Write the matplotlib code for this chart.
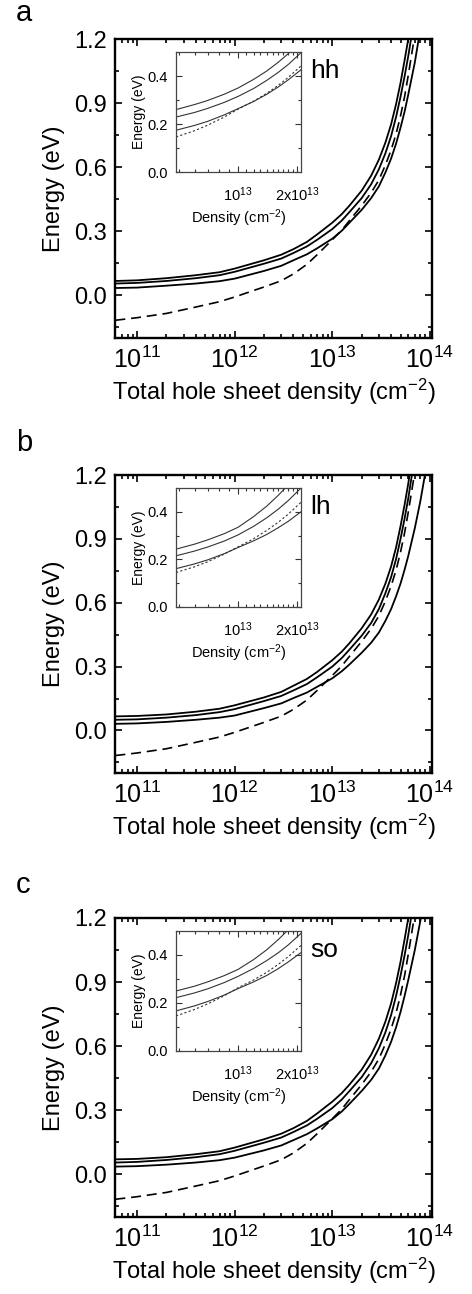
import numpy as np
import matplotlib
matplotlib.use("Agg")
import matplotlib.pyplot as plt
from matplotlib.ticker import FixedLocator, NullFormatter, MultipleLocator, FixedFormatter

plt.rcParams['font.family'] = ['Liberation Sans', 'DejaVu Sans']
plt.rcParams['mathtext.fontset'] = 'custom'
plt.rcParams['mathtext.rm'] = 'Liberation Sans'
plt.rcParams['mathtext.it'] = 'Liberation Sans:italic'
plt.rcParams['mathtext.default'] = 'regular'

# ---------------- data (main panels) ----------------
density = [6e10, 1e11, 2e11, 4e11, 7e11, 1e12, 2e12, 3e12, 4e12, 5.5e12, 7e12, 1e13, 1.25e13, 1.5e13,
           2e13, 2.5e13, 3e13, 3.5e13, 4e13, 4.5e13, 5e13, 5.5e13, 6e13, 7e13, 8e13, 9e13, 1e14]

hh_top    = [0.067, 0.070, 0.080, 0.094, 0.108, 0.125, 0.164, 0.190, 0.216, 0.250, 0.285, 0.340, 0.380, 0.420,
             0.490, 0.560, 0.635, 0.715, 0.800, 0.895, 0.995, 1.100, 1.200, 1.400, 1.600, 1.800, 2.000]
hh_mid    = [0.055, 0.058, 0.067, 0.080, 0.094, 0.110, 0.148, 0.172, 0.198, 0.229, 0.260, 0.310, 0.350, 0.390,
             0.455, 0.520, 0.590, 0.665, 0.745, 0.835, 0.930, 1.025, 1.120, 1.310, 1.500, 1.690, 1.880]
hh_bottom = [0.034, 0.036, 0.045, 0.055, 0.066, 0.078, 0.114, 0.138, 0.164, 0.192, 0.220, 0.265, 0.302, 0.340,
             0.400, 0.455, 0.510, 0.575, 0.640, 0.710, 0.785, 0.860, 0.940, 1.090, 1.250, 1.410, 1.570]
hh_dashed = [-0.117, -0.105, -0.085, -0.055, -0.030, -0.008, 0.039, 0.068, 0.100, 0.145, 0.190, 0.260, 0.305, 0.350,
             0.420, 0.480, 0.540, 0.610, 0.680, 0.755, 0.840, 0.930, 1.030, 1.220, 1.410, 1.600, 1.790]

lh_top    = [0.066, 0.068, 0.075, 0.088, 0.102, 0.118, 0.155, 0.181, 0.210, 0.242, 0.275, 0.330, 0.370, 0.410,
             0.480, 0.545, 0.615, 0.690, 0.770, 0.860, 0.960, 1.060, 1.160, 1.370, 1.580, 1.790, 2.000]
lh_mid    = [0.050, 0.052, 0.060, 0.072, 0.086, 0.100, 0.138, 0.162, 0.188, 0.218, 0.250, 0.300, 0.340, 0.380,
             0.445, 0.505, 0.570, 0.645, 0.720, 0.805, 0.900, 0.995, 1.090, 1.290, 1.490, 1.690, 1.890]
lh_bottom = [0.031, 0.033, 0.040, 0.050, 0.060, 0.070, 0.105, 0.127, 0.152, 0.178, 0.205, 0.245, 0.278, 0.310,
             0.365, 0.412, 0.460, 0.515, 0.570, 0.630, 0.690, 0.755, 0.820, 0.950, 1.080, 1.215, 1.350]
lh_dashed = [-0.118, -0.106, -0.086, -0.056, -0.031, -0.009, 0.038, 0.067, 0.099, 0.143, 0.188, 0.258, 0.303, 0.348,
             0.418, 0.478, 0.538, 0.608, 0.678, 0.753, 0.838, 0.928, 1.025, 1.215, 1.405, 1.595, 1.785]

so_top    = [0.070, 0.072, 0.080, 0.094, 0.108, 0.125, 0.164, 0.190, 0.216, 0.250, 0.285, 0.340, 0.380, 0.420,
             0.490, 0.560, 0.635, 0.715, 0.800, 0.895, 0.995, 1.100, 1.200, 1.400, 1.600, 1.800, 2.000]
so_mid    = [0.055, 0.058, 0.067, 0.080, 0.094, 0.110, 0.148, 0.172, 0.198, 0.229, 0.260, 0.310, 0.350, 0.390,
             0.455, 0.520, 0.590, 0.665, 0.745, 0.835, 0.930, 1.025, 1.120, 1.310, 1.500, 1.690, 1.880]
so_bottom = [0.036, 0.038, 0.045, 0.055, 0.066, 0.078, 0.112, 0.135, 0.160, 0.188, 0.215, 0.258, 0.294, 0.330,
             0.390, 0.442, 0.495, 0.557, 0.620, 0.688, 0.760, 0.835, 0.910, 1.050, 1.190, 1.335, 1.480]
so_dashed = [-0.117, -0.105, -0.085, -0.055, -0.030, -0.008, 0.039, 0.068, 0.100, 0.145, 0.190, 0.260, 0.305, 0.350,
             0.420, 0.480, 0.540, 0.610, 0.680, 0.755, 0.840, 0.930, 1.030, 1.220, 1.410, 1.600, 1.790]

# ---------------- data (insets) ----------------
inset_density = [4.83e12, 6e12, 7e12, 8.5e12, 1e13, 1.2e13, 1.4e13, 1.6e13, 1.8e13, 2.09e13]

hh_in_top    = [0.260, 0.281, 0.298, 0.324, 0.350, 0.386, 0.421, 0.457, 0.493, 0.545]
hh_in_mid    = [0.229, 0.248, 0.265, 0.290, 0.315, 0.348, 0.382, 0.415, 0.448, 0.497]
hh_in_bottom = [0.174, 0.194, 0.211, 0.238, 0.264, 0.294, 0.324, 0.354, 0.384, 0.426]
hh_in_dotted = [0.146, 0.172, 0.195, 0.229, 0.262, 0.295, 0.328, 0.361, 0.394, 0.442]

lh_in_top    = [0.243, 0.264, 0.282, 0.308, 0.335, 0.380, 0.424, 0.469, 0.513, 0.570]
lh_in_mid    = [0.215, 0.235, 0.252, 0.277, 0.303, 0.339, 0.375, 0.411, 0.447, 0.500]
lh_in_bottom = [0.161, 0.181, 0.198, 0.224, 0.250, 0.278, 0.305, 0.333, 0.360, 0.400]
lh_in_dotted = [0.145, 0.169, 0.190, 0.222, 0.253, 0.287, 0.322, 0.356, 0.390, 0.440]

so_in_top    = [0.250, 0.270, 0.288, 0.314, 0.340, 0.381, 0.422, 0.464, 0.505, 0.564]
so_in_mid    = [0.222, 0.242, 0.259, 0.285, 0.311, 0.344, 0.377, 0.409, 0.442, 0.490]
so_in_bottom = [0.167, 0.188, 0.206, 0.233, 0.260, 0.288, 0.315, 0.343, 0.371, 0.410]
so_in_dotted = [0.146, 0.173, 0.196, 0.230, 0.264, 0.296, 0.328, 0.361, 0.393, 0.440]

panel_letters = ['a', 'b', 'c']
band_labels = ['hh', 'lh', 'so']
main_xticks = [1e11, 1e12, 1e13, 1e14]
main_xticklabels = [r'$10^{11}$', r'$10^{12}$', r'$10^{13}$', r'$10^{14}$']
main_yticks = [0.0, 0.3, 0.6, 0.9, 1.2]
main_yticklabels = ['0.0', '0.3', '0.6', '0.9', '1.2']
inset_xticks = [1e13, 2e13]
inset_xticklabels = [r'$10^{13}$', r'$2\mathrm{x}10^{13}$']
inset_yticks = [0.0, 0.2, 0.4]
inset_yticklabels = ['0.0', '0.2', '0.4']

# ---------------- layout ----------------
W, H = 472, 1294
fig = plt.figure(figsize=(W / 100, H / 100), dpi=100)

def frac(l, t, r, b):
    return [l / W, 1 - b / H, (r - l) / W, (b - t) / H]

main_boxes = [(115, 39, 432, 338), (115, 475, 432, 773), (115, 918, 432, 1217)]
inset_boxes = [(176, 52, 301, 172), (176, 488, 301, 607), (176, 931, 301, 1051)]
letter_pos = [(16, 21), (16, 451), (16, 893)]

panels = [
    (hh_top, hh_mid, hh_bottom, hh_dashed, hh_in_top, hh_in_mid, hh_in_bottom, hh_in_dotted),
    (lh_top, lh_mid, lh_bottom, lh_dashed, lh_in_top, lh_in_mid, lh_in_bottom, lh_in_dotted),
    (so_top, so_mid, so_bottom, so_dashed, so_in_top, so_in_mid, so_in_bottom, so_in_dotted),
]

for i, (top, mid, bot, dsh, itop, imid, ibot, idot) in enumerate(panels):
    ax = fig.add_axes(frac(*main_boxes[i]))
    for s in (top, mid, bot):
        ax.plot(density, s, color='black', lw=1.3, solid_joinstyle='round')
    ax.plot(density, dsh, color='black', lw=1.2, dashes=(6, 3.5))
    ax.set_xscale('log')
    ax.set_xlim(5.95e10, 1.05e14)
    ax.set_ylim(-0.2, 1.2)
    ax.xaxis.set_major_locator(FixedLocator(main_xticks))
    ax.xaxis.set_major_formatter(FixedFormatter(main_xticklabels))
    minor = [m * 10.0 ** e for e in range(10, 14) for m in range(2, 10)]
    ax.xaxis.set_minor_locator(FixedLocator(minor))
    ax.xaxis.set_minor_formatter(NullFormatter())
    ax.yaxis.set_major_locator(FixedLocator(main_yticks))
    ax.yaxis.set_major_formatter(FixedFormatter(main_yticklabels))
    ax.yaxis.set_minor_locator(MultipleLocator(0.15))
    ax.tick_params(which='both', direction='in', top=True, right=True, width=1.2)
    ax.tick_params(axis='y', labelsize=17)
    ax.tick_params(axis='x', labelsize=18)
    ax.tick_params(which='major', length=5, pad=6)
    ax.tick_params(which='minor', length=3)
    for sp in ax.spines.values():
        sp.set_linewidth(1.7)
    ax.set_xlabel('Total hole sheet density (cm$^{-2}$)', fontsize=17, labelpad=3)
    ax.set_ylabel('Energy (eV)', fontsize=17, labelpad=6)
    ax.text(0.615, 0.87, band_labels[i], transform=ax.transAxes, fontsize=19,
            ha='left', va='baseline')
    lx, ly = letter_pos[i]
    fig.text(lx / W, 1 - ly / H, panel_letters[i], fontsize=21, ha='left', va='baseline')

    # inset
    ins = fig.add_axes(frac(*inset_boxes[i]))
    for s in (itop, imid, ibot):
        ins.plot(inset_density, s, color='#333333', lw=0.8)
    ins.plot(inset_density, idot, color='#333333', lw=0.8, dashes=(2, 2))
    ins.set_xscale('log')
    ins.set_xlim(4.83e12, 2.09e13)
    ins.set_ylim(0.0, 0.5)
    ins.xaxis.set_major_locator(FixedLocator(inset_xticks))
    ins.xaxis.set_major_formatter(FixedFormatter(inset_xticklabels))
    ins.xaxis.set_minor_locator(FixedLocator([k * 1e12 for k in list(range(5, 10)) + list(range(11, 20))]))
    ins.xaxis.set_minor_formatter(NullFormatter())
    ins.yaxis.set_major_locator(FixedLocator(inset_yticks))
    ins.yaxis.set_major_formatter(FixedFormatter(inset_yticklabels))
    ins.yaxis.set_minor_locator(FixedLocator([0.1, 0.3]))
    ins.tick_params(which='both', direction='in', top=True, right=True, labelsize=10.5,
                    width=0.8, colors='#333333', labelcolor='black')
    ins.tick_params(which='major', length=4)
    ins.tick_params(axis='x', which='major', pad=10)
    ins.tick_params(axis='y', which='major', pad=6)
    ins.tick_params(which='minor', length=2.5)
    for sp in ins.spines.values():
        sp.set_linewidth(0.9)
        sp.set_color('#444444')
    ins.set_xlabel('Density (cm$^{-2}$)', fontsize=10.5, labelpad=2)
    ins.set_ylabel('Energy (eV)', fontsize=10, labelpad=1)

fig.savefig('out.png', dpi=100)
